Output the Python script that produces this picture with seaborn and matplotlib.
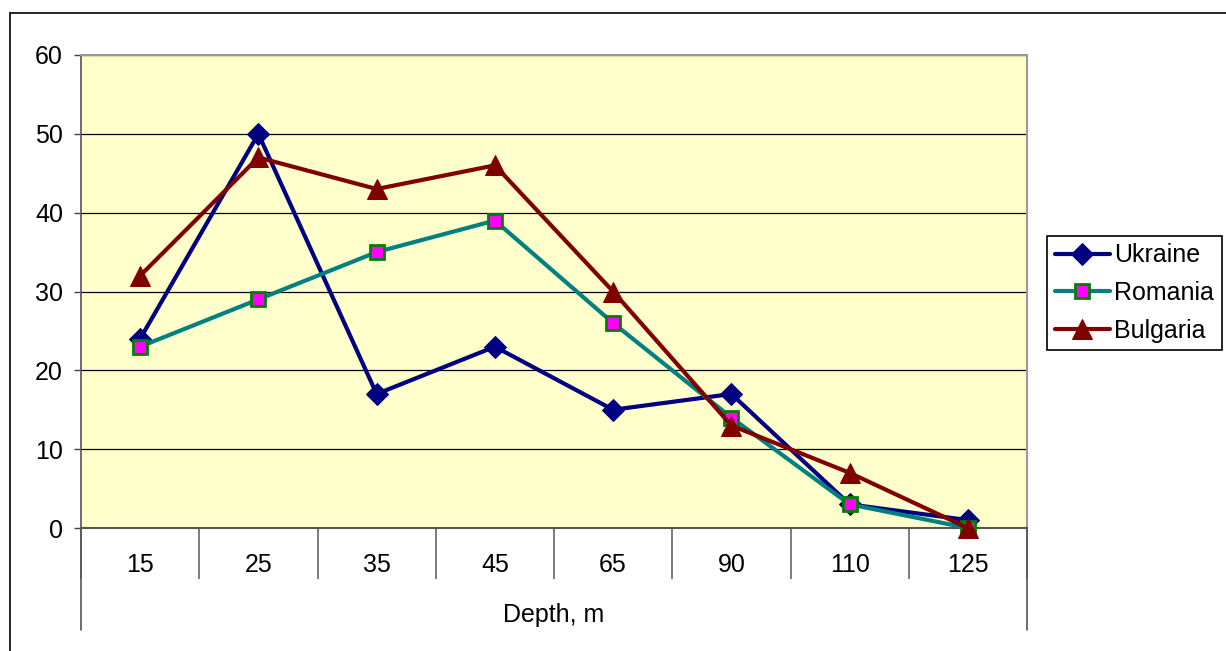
import numpy as np
import pandas as pd
import seaborn as sns
import matplotlib
matplotlib.use("Agg")
import matplotlib.pyplot as plt
from matplotlib.lines import Line2D
import matplotlib.transforms as mtrans

depths = ["15", "25", "35", "45", "65", "90", "110", "125"]
ukraine = [24, 50, 17, 23, 15, 17, 3, 1]
romania = [23, 29, 35, 39, 26, 14, 3, 0]
bulgaria = [32, 47, 43, 46, 30, 13, 7, 0]
series_names = ["Ukraine", "Romania", "Bulgaria"]
y_ticks = [0, 10, 20, 30, 40, 50, 60]
x_label = "Depth, m"

sns.set_theme(style="white")
plt.rcParams["font.family"] = ["Liberation Sans", "DejaVu Sans"]
plt.rcParams["text.color"] = "black"
plt.rcParams["xtick.color"] = "black"
plt.rcParams["ytick.color"] = "black"

FS = 18
W, H = 1226, 651
fig = plt.figure(figsize=(W / 100, H / 100), dpi=100)
ax = fig.add_axes([81 / W, 1 - 528 / H, (1027 - 81) / W, (528 - 55) / H])
ax.set_facecolor("#FFFFCC")

pos = np.arange(len(depths))
styles = [
    dict(color="#000080", marker="D", markersize=11.5, markerfacecolor="#000080", markeredgecolor="#000080"),
    dict(color="#008080", marker="s", markersize=9.5, markerfacecolor="#FF00FF", markeredgecolor="#008000", markeredgewidth=2),
    dict(color="#800000", marker="^", markersize=14, markerfacecolor="#800000", markeredgecolor="#800000"),
]
for name, vals, st in zip(series_names, [ukraine, romania, bulgaria], styles):
    df = pd.DataFrame({"pos": pos, "value": vals})
    sns.lineplot(data=df, x="pos", y="value", ax=ax, linewidth=3, label=name,
                 clip_on=False, zorder=3, **st)

ax.set_xlim(-0.5, len(depths) - 0.5)
ax.set_ylim(0, 60)
ax.set_yticks(y_ticks)
ax.set_yticklabels([str(v) for v in y_ticks])
ax.yaxis.grid(True, color="black", linewidth=0.9)
ax.set_axisbelow(True)

ax.set_xticks(pos)
ax.set_xticklabels(depths)
ax.set_xticks(np.arange(-0.5, len(depths), 1), minor=True)
ax.tick_params(axis="x", which="major", length=0, pad=18, labelsize=FS, labelcolor="black")
ax.tick_params(axis="x", which="minor", length=37, width=1.2, color="#666666", direction="out", bottom=True)
ax.tick_params(axis="y", which="major", length=5, width=1, color="#444444", left=True, pad=8, labelsize=FS, labelcolor="black")
ax.set_xlabel("")
ax.set_ylabel("")

for side in ["top", "right"]:
    ax.spines[side].set_color("#999999")
    ax.spines[side].set_linewidth(1.5)
ax.spines["left"].set_color("#555555")
ax.spines["left"].set_linewidth(1.2)
ax.spines["bottom"].set_color("#555555")
ax.spines["bottom"].set_linewidth(1.5)

# long outer category separators (multi-level axis look)
trans = mtrans.blended_transform_factory(ax.transAxes, fig.transFigure)
for xa in [0, 1]:
    ax.add_line(Line2D([xa, xa], [1 - 528 / H, 1 - 630 / H], transform=trans,
                       color="#555555", linewidth=1.2, clip_on=False))

fig.text((81 + 1027) / 2 / W, 1 - 615 / H, x_label, ha="center", va="center", fontsize=FS, color="black")

leg = ax.legend(loc="center left", bbox_to_anchor=(1047 / W, 1 - 293 / H),
                bbox_transform=fig.transFigure, fontsize=FS, frameon=True,
                fancybox=False, edgecolor="black", framealpha=1, handlelength=2.2,
                handletextpad=0.2, borderpad=0.3, labelspacing=0.55, borderaxespad=0)
leg.get_frame().set_linewidth(1.2)
for t in leg.get_texts():
    t.set_color("black")

# outer chart frame
fig.add_artist(Line2D([10 / W, 1.0], [1 - 13 / H, 1 - 13 / H], transform=fig.transFigure, color="black", linewidth=1.2))
fig.add_artist(Line2D([10 / W, 10 / W], [1 - 13 / H, 0], transform=fig.transFigure, color="black", linewidth=1.2))

fig.savefig("out.png", dpi=100)
